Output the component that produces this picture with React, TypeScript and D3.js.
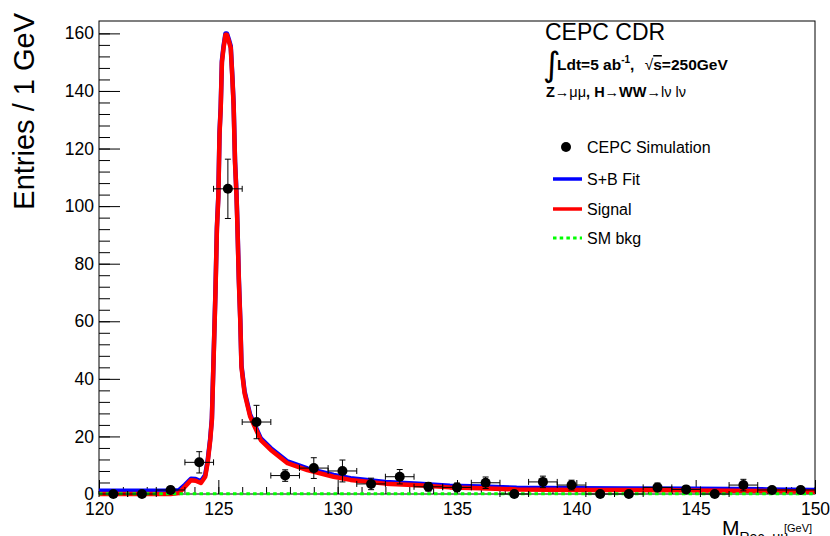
import { useEffect, useRef } from 'react';
import * as d3 from 'd3';

// binned simulation (1.2 GeV bins)
const binCenters = [120.6, 121.8, 123.0, 124.2, 125.4, 126.6, 127.8, 129.0, 130.2, 131.4, 132.6, 133.8, 135.0,
  136.2, 137.4, 138.6, 139.8, 141.0, 142.2, 143.4, 144.6, 145.8, 147.0, 148.2, 149.4];
const counts = [0, 0, 1.4, 11, 106, 25, 6.4, 9, 8, 3.5, 6, 2.5, 2.3, 3.9, 0, 4.2, 3.1, 0, 0, 2.3, 1.6, 0, 3.1, 1.4, 1.4];
const countErrors = [0, 0, 1.2, 3.7, 10.3, 5.8, 2, 3.6, 3.8, 2, 2.5, 1.5, 1.5, 2, 0, 2, 1.7, 0, 0, 1.5, 1.2, 0, 2, 1.2, 1.2];
const binHalfWidth = 0.6;

// fitted curves
const fitMass = [120, 123.0, 123.35, 123.6, 123.85, 124.05, 124.27, 124.45, 124.55, 124.66, 124.73, 124.88, 124.94,
  125.0, 125.05, 125.1, 125.15, 125.22, 125.3, 125.36, 125.45, 125.52, 125.59, 125.64, 125.7, 125.76, 125.8, 125.86,
  125.92, 125.97, 126.1, 126.33, 126.78, 127.2, 127.9, 128.73, 129.83, 130.54, 132, 133.4, 134.7, 136, 137.5, 140,
  142, 145, 148, 150];
const signalFit = [0, 0, 0.3, 2.5, 4.8, 4.6, 3.8, 6, 10.8, 18.7, 25.7, 70, 92, 103, 125, 134, 150, 155, 159.5, 159.5,
  157, 155, 144, 135, 115, 104, 93, 74, 60, 44, 35, 27, 18.7, 15.3, 10.7, 8.3, 6.0, 4.9, 3.6, 3.0, 2.3, 2.0, 1.6, 1.4,
  1.4, 1.2, 1.0, 0.8];
const sbFit = [1.1, 1.1, 1.3, 3.2, 5.3, 5.2, 4.4, 6.6, 11.4, 19.3, 26.3, 70.6, 92.6, 103.6, 125.6, 134.6, 150.6, 155.6,
  160, 160, 157.6, 155.6, 144.6, 135.6, 115.6, 104.6, 93.6, 74.6, 60.6, 44.6, 35.6, 27.6, 19.3, 15.9, 11.3, 8.9, 6.6,
  5.5, 4.2, 3.6, 2.9, 2.6, 2.2, 2.0, 1.9, 1.8, 1.6, 1.4];
const bkgMass = [120, 150];
const bkgFit = [0.05, 0.05];

const xTicks = [120, 125, 130, 135, 140, 145, 150];
const yTicks = [0, 20, 40, 60, 80, 100, 120, 140, 160];

const FONT = 'Liberation Sans, Arial, Helvetica, sans-serif';

function App() {
  const svgRef = useRef(null);

  useEffect(() => {
    const width = 830;
    const height = 536;
    const frame = { left: 99, right: 815, top: 21, bottom: 494 };

    const svg = d3.select(svgRef.current)
      .attr('width', width)
      .attr('height', height);
    svg.selectAll('*').remove();

    const x = d3.scaleLinear().domain([120, 150]).range([frame.left, frame.right]);
    const y = d3.scaleLinear().domain([0, 164.3]).range([frame.bottom, frame.top]);

    // minor ticks
    svg.append('g')
      .attr('transform', `translate(0, ${frame.bottom})`)
      .call(d3.axisBottom(x).tickValues(d3.range(120, 151, 1)).tickSize(-7).tickFormat(() => ''))
      .call(g => g.select('.domain').remove());
    svg.append('g')
      .attr('transform', `translate(${frame.left}, 0)`)
      .call(d3.axisLeft(y).tickValues(d3.range(0, 164, 4)).tickSize(-11).tickFormat(() => ''))
      .call(g => g.select('.domain').remove());

    // major ticks + labels
    const xAxis = svg.append('g')
      .attr('transform', `translate(0, ${frame.bottom})`)
      .call(d3.axisBottom(x).tickValues(xTicks).tickSize(-14).tickPadding(9).tickFormat(d3.format('d')));
    xAxis.select('.domain').remove();
    xAxis.selectAll('text').attr('font-size', 17.5).attr('font-family', FONT).attr('fill', '#000');

    const yAxis = svg.append('g')
      .attr('transform', `translate(${frame.left}, 0)`)
      .call(d3.axisLeft(y).tickValues(yTicks).tickSize(-21).tickPadding(5).tickFormat(d3.format('d')));
    yAxis.select('.domain').remove();
    yAxis.selectAll('text').attr('font-size', 17.5).attr('font-family', FONT).attr('fill', '#000');

    svg.selectAll('.tick line').attr('stroke', '#000').attr('stroke-width', 1);

    // frame
    svg.append('rect')
      .attr('x', frame.left).attr('y', frame.top)
      .attr('width', frame.right - frame.left).attr('height', frame.bottom - frame.top)
      .attr('fill', 'none').attr('stroke', '#000').attr('stroke-width', 1);

    const line = (vals: number[]) => d3.line<number>()
      .x((_, i) => x(fitMass[i]))
      .y(d => y(d))(vals);

    svg.append('path').attr('d', line(sbFit))
      .attr('fill', 'none').attr('stroke', '#0000ff').attr('stroke-width', 4.5).attr('stroke-linejoin', 'round');
    svg.append('path').attr('d', line(signalFit))
      .attr('fill', 'none').attr('stroke', '#ff0000').attr('stroke-width', 4.5).attr('stroke-linejoin', 'round');
    svg.append('path')
      .attr('d', d3.line<number>().x((_, i) => x(bkgMass[i])).y(d => y(d))(bkgFit))
      .attr('fill', 'none').attr('stroke', '#00ff00').attr('stroke-width', 3).attr('stroke-dasharray', '3.5,3.2');

    // data points with errors
    const pts = svg.append('g');
    binCenters.forEach((c, i) => {
      const cx = x(c);
      const cy = y(counts[i]);
      const x0 = x(c - binHalfWidth);
      const x1 = x(c + binHalfWidth);
      pts.append('line').attr('x1', x0).attr('x2', x1).attr('y1', cy).attr('y2', cy).attr('stroke', '#000');
      pts.append('line').attr('x1', x0).attr('x2', x0).attr('y1', cy - 3).attr('y2', cy + 3).attr('stroke', '#000');
      pts.append('line').attr('x1', x1).attr('x2', x1).attr('y1', cy - 3).attr('y2', cy + 3).attr('stroke', '#000');
      if (countErrors[i] > 0) {
        const yt = y(counts[i] + countErrors[i]);
        const yb = y(counts[i] - countErrors[i]);
        pts.append('line').attr('x1', cx).attr('x2', cx).attr('y1', yt).attr('y2', yb).attr('stroke', '#000');
        pts.append('line').attr('x1', cx - 3).attr('x2', cx + 3).attr('y1', yt).attr('y2', yt).attr('stroke', '#000');
        pts.append('line').attr('x1', cx - 3).attr('x2', cx + 3).attr('y1', yb).attr('y2', yb).attr('stroke', '#000');
      }
      pts.append('circle').attr('cx', cx).attr('cy', cy).attr('r', 5).attr('fill', '#000');
    });

    // axis titles
    svg.append('text')
      .attr('transform', 'translate(34, 13) rotate(-90)')
      .attr('text-anchor', 'end')
      .attr('font-family', FONT).attr('font-size', 29)
      .text('Entries / 1 GeV');

    const xt = svg.append('text').attr('x', 722).attr('y', 535).attr('font-family', FONT);
    xt.append('tspan').attr('font-size', 21).text('M');
    xt.append('tspan').attr('font-size', 14).attr('dy', 7).text('Rec_μμ');
    xt.append('tspan').attr('font-size', 11).attr('dy', -10).attr('x', 784).text('[GeV]');

    // labels
    svg.append('text').attr('x', 545).attr('y', 40).attr('font-family', FONT).attr('font-size', 23).text('CEPC CDR');
    svg.append('text').attr('x', 543).attr('y', 76).attr('font-family', 'DejaVu Sans, sans-serif')
      .attr('font-size', 34).text('∫');
    const lum = svg.append('text').attr('x', 557).attr('y', 70).attr('font-family', FONT)
      .attr('font-size', 15.5).attr('font-weight', 'bold');
    lum.append('tspan').text('Ldt=5 ab');
    lum.append('tspan').attr('font-size', 10).attr('dy', -7).text('-1');
    lum.append('tspan').attr('dy', 7).text(', ');
    lum.append('tspan').attr('font-weight', 'normal').attr('dx', 6).text('√');
    lum.append('tspan').attr('text-decoration', 'overline').text('s');
    lum.append('tspan').text('=250GeV');

    const proc = svg.append('text').attr('x', 546).attr('y', 97).attr('font-family', FONT).attr('font-size', 14.5);
    proc.append('tspan').attr('font-weight', 'bold').text('Z');
    proc.append('tspan').text('→μμ');
    proc.append('tspan').attr('font-weight', 'bold').text(', H');
    proc.append('tspan').text('→');
    proc.append('tspan').attr('font-weight', 'bold').text('WW');
    proc.append('tspan').text('→lν lν');

    // legend
    const legend = svg.append('g').attr('font-family', FONT).attr('font-size', 16);
    legend.append('circle').attr('cx', 566).attr('cy', 147).attr('r', 5).attr('fill', '#000');
    legend.append('text').attr('x', 587).attr('y', 153).text('CEPC Simulation');
    legend.append('line').attr('x1', 553).attr('x2', 582).attr('y1', 179).attr('y2', 179)
      .attr('stroke', '#0000ff').attr('stroke-width', 3.5);
    legend.append('text').attr('x', 587).attr('y', 185).text('S+B Fit');
    legend.append('line').attr('x1', 553).attr('x2', 582).attr('y1', 209).attr('y2', 209)
      .attr('stroke', '#ff0000').attr('stroke-width', 3.5);
    legend.append('text').attr('x', 587).attr('y', 215).text('Signal');
    legend.append('line').attr('x1', 553).attr('x2', 582).attr('y1', 238).attr('y2', 238)
      .attr('stroke', '#00ff00').attr('stroke-width', 3).attr('stroke-dasharray', '3.5,3.2');
    legend.append('text').attr('x', 587).attr('y', 244).text('SM bkg');
  }, []);

  return (
    <svg ref={svgRef} style={{ position: 'absolute', left: 0, top: 0, background: '#fff' }}></svg>
  );
}

export default App;
